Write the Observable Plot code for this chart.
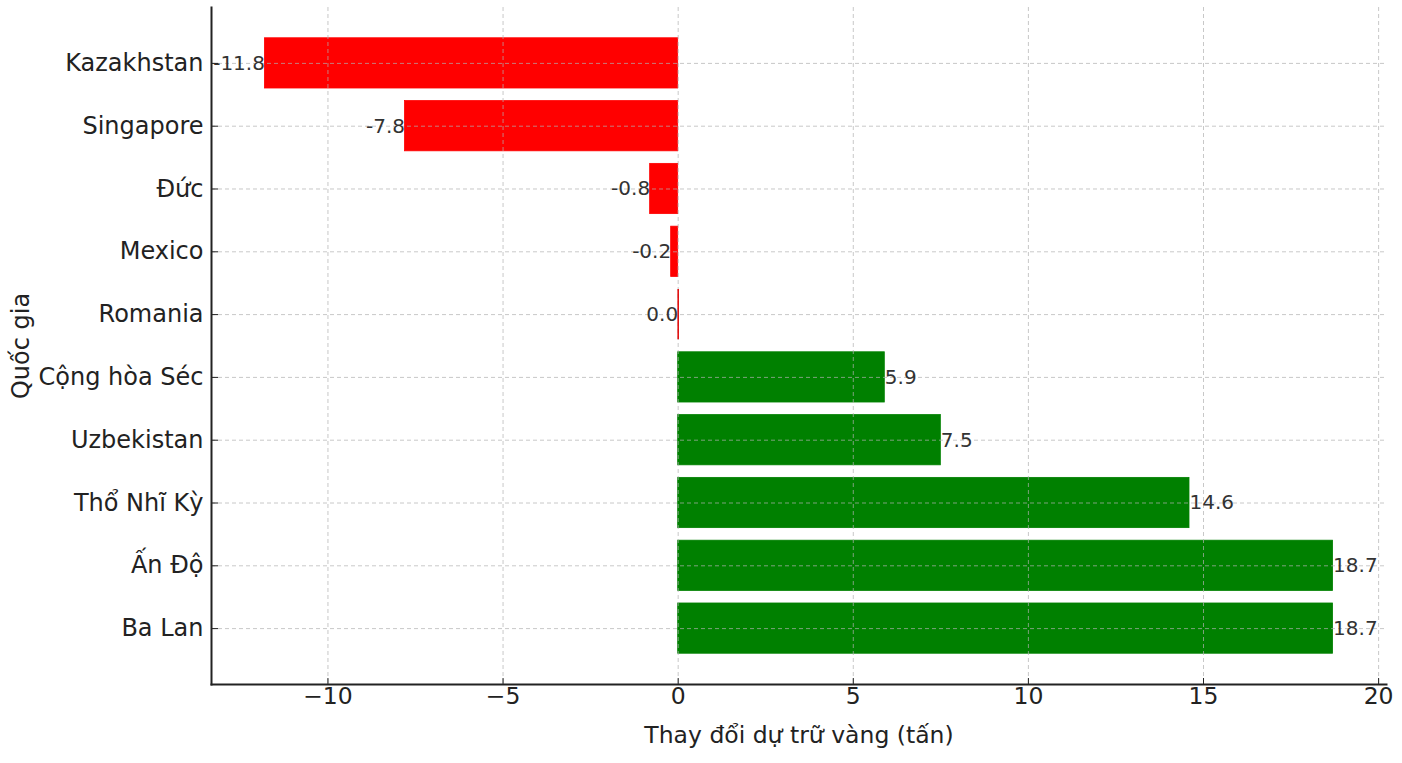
<!DOCTYPE html>
<html><head><meta charset="utf-8">
<script src="https://cdn.jsdelivr.net/npm/d3@7"></script>
<script src="https://cdn.jsdelivr.net/npm/@observablehq/plot@0.6"></script>
<style>body{margin:0;background:#fff;} svg{font-family:"DejaVu Sans",sans-serif;}</style>
</head><body><div id="chart"></div>
<script>
const countries = ["Kazakhstan","Singapore","Đức","Mexico","Romania","Cộng hòa Séc","Uzbekistan","Thổ Nhĩ Kỳ","Ấn Độ","Ba Lan"];
const changes = [-11.8,-7.8,-0.8,-0.2,0.0,5.9,7.5,14.6,18.7,18.7];
const xTicks = [-10,-5,0,5,10,15,20];
const xLabel = "Thay đổi dự trữ vàng (tấn)";
const yLabel = "Quốc gia";

const data = countries.map((c,i)=>({country:c, value:changes[i], color: changes[i] > 0 ? "green" : "red"}));
const lo = d3.min(changes), hi = d3.max(changes), pad = (hi-lo)*0.05;

const chart = Plot.plot({
  width: 1402, height: 763,
  marginLeft: 211, marginRight: 16, marginTop: 7, marginBottom: 79,
  style: {fontFamily: "DejaVu Sans, sans-serif", background: "#fff"},
  x: {domain: [lo-pad, hi+pad]},
  y: {domain: countries, paddingInner: 0.2, paddingOuter: 0.49, round: false},
  marks: [
    Plot.barX(data, {x: "value", y: "country", fill: "color", stroke: "color", strokeWidth: 0.8}),
    Plot.gridX(xTicks, {stroke: "#b0b0b0", strokeOpacity: 0.7, strokeDasharray: "4,3", strokeWidth: 1}),
    Plot.gridY(countries, {stroke: "#b0b0b0", strokeOpacity: 0.7, strokeDasharray: "4,3", strokeWidth: 1}),
    Plot.tickX(data.filter(d=>d.value===0), {x: "value", y: "country", stroke: "#e00000", strokeWidth: 1.5}),
    Plot.text(data.filter(d=>d.value<=0), {x:"value", y:"country", text: d=>d.value.toFixed(1), textAnchor:"end", fontSize: 20, fill:"#333"}),
    Plot.text(data.filter(d=>d.value>0), {x:"value", y:"country", text: d=>d.value.toFixed(1), textAnchor:"start", fontSize: 20, fill:"#333"}),
    Plot.axisY({tickSize: 0, tickPadding: 8, fontSize: 24, color: "#222", label: yLabel, labelAnchor: "center", labelOffset: 200, labelArrow: false}),
    Plot.axisY({tickSize: 7, tickFormat: () => "", dx: 7, stroke: "#222", label: null}),
    Plot.axisX(xTicks, {tickSize: 0, tickPadding: 3, fontSize: 23.5, color: "#222", tickFormat: d => d < 0 ? "\u2212" + Math.abs(d) : String(d), label: xLabel, labelAnchor: "center", labelOffset: 58, labelArrow: false}),
    Plot.axisX(xTicks, {tickSize: 6, tickFormat: () => "", dy: -6, stroke: "#222", label: null}),
    Plot.frame({anchor: "left", stroke: "#222", strokeWidth: 2}),
    Plot.frame({anchor: "bottom", stroke: "#222", strokeWidth: 2})
  ]
});
document.getElementById("chart").appendChild(chart);
</script></body></html>
